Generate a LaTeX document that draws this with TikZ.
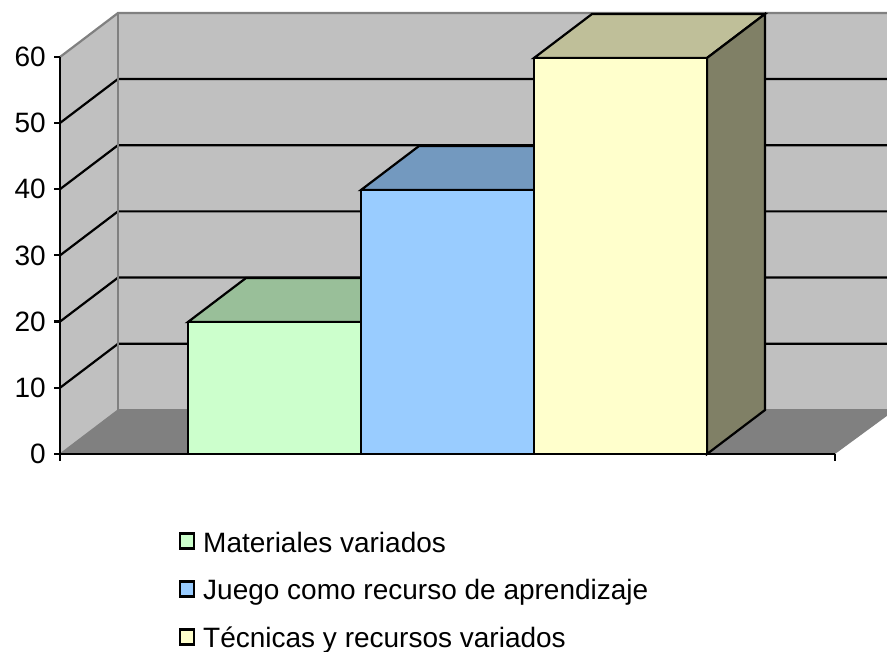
\documentclass[tikz,border=0pt]{standalone}
\usepackage{fontspec}
\setmainfont{Liberation Sans}
\usepackage{tikz}
\usetikzlibrary{calc}

\definecolor{wallgray}{HTML}{C0C0C0}
\definecolor{floorgray}{HTML}{808080}
\definecolor{edgegray}{HTML}{808080}
\definecolor{greenfront}{HTML}{CCFFCC}
\definecolor{greentop}{HTML}{99BF99}
\definecolor{bluefront}{HTML}{99CCFF}
\definecolor{bluetop}{HTML}{7399BF}
\definecolor{yellowfront}{HTML}{FFFFCC}
\definecolor{yellowtop}{HTML}{BFBF99}
\definecolor{yellowside}{HTML}{808066}

\begin{document}
\begin{tikzpicture}[x=1pt,y=-1pt,
    axislabel/.style={anchor=east,inner sep=0pt,font=\fontsize{28}{33}\selectfont},
    legendtext/.style={anchor=base west,inner sep=0pt,font=\fontsize{28}{33}\selectfont},
    legendbox/.style={draw=black,line width=2.2pt,minimum width=14pt,minimum height=15pt,inner sep=0pt},
    barface/.style={draw=black,line width=2.2pt,line join=miter}]
        \useasboundingbox (0,0) rectangle (887,652);
        \clip (0,0) rectangle (887,652);

        % depth offset of the 3d box
        \coordinate (D) at (58,-44);

        % Left wall, back wall and floor
        \fill[wallgray] (60,454) -- (60,57) -- (118,13) -- (118,410) -- cycle;
        \fill[wallgray] (118,13) rectangle (895,410);
        \fill[floorgray] (60,454) -- (118,410) -- (895,410) -- (835,454) -- cycle;

        % Grid lines
        \foreach \v in {1,...,5}{
            \draw[line width=2.2pt] (60,454-\v*66.2) -- ++(D) -- (895,454-\v*66.2-44);
        }
        \draw[edgegray,line width=2.2pt] (60,57) -- (118,13) -- (895,13);
        \draw[edgegray,line width=2.2pt] (118,13) -- (118,410) -- (895,410);
        \draw[edgegray,line width=1.2pt] (60,454) -- (118,410);

        % Bar for each category
        \coordinate (A1) at (188,454);
        \coordinate (A2) at (361,454);
        \coordinate (A3) at (534,454);
        \coordinate (A4) at (707,454);

        \filldraw[barface,fill=greentop] (188,322) -- ++(D) -- ($(361,322)+(D)$) -- (361,322) -- cycle;
        \filldraw[barface,fill=greenfront] (A1) rectangle (361,322);

        \filldraw[barface,fill=bluetop] (361,190) -- ++(D) -- ($(534,190)+(D)$) -- (534,190) -- cycle;
        \filldraw[barface,fill=bluefront] (A2) rectangle (534,190);

        \filldraw[barface,fill=yellowtop] (534,58) -- ++(D) -- ($(707,58)+(D)$) -- (707,58) -- cycle;
        \filldraw[barface,fill=yellowside] (A4) -- ++(D) -- ($(707,58)+(D)$) -- (707,58) -- cycle;
        \filldraw[barface,fill=yellowfront] (A3) rectangle (707,58);

        % Axes
        \draw[line width=2.2pt] (60,57) -- (60,454) -- (835,454);
        \foreach \v in {0,...,6}{
            \draw[line width=2.2pt] (54,454-\v*66.2) -- (60,454-\v*66.2);
        }
        \draw[line width=2.2pt] (60,454) -- (60,461);
        \draw[line width=2.2pt] (835,454) -- (835,461);

        \node[axislabel] (l0) at (46,454) {0};
        \node[axislabel] (l10) at (46,387.8) {10};
        \node[axislabel] (l20) at (46,321.6) {20};
        \node[axislabel] (l30) at (46,255.4) {30};
        \node[axislabel] (l40) at (46,189.2) {40};
        \node[axislabel] (l50) at (46,123) {50};
        \node[axislabel] (l60) at (46,56.8) {60};

        % Legend
        \node[legendbox,fill=greenfront] (box1) at (187,541) {};
        \node[legendbox,fill=bluefront] (box2) at (187,589) {};
        \node[legendbox,fill=yellowfront] (box3) at (187,637) {};
        \node[legendtext] (leg1) at (203,552) {Materiales variados};
        \node[legendtext] (leg2) at (203,599) {Juego como recurso de aprendizaje};
        \node[legendtext] (leg3) at (203,647) {Técnicas y recursos variados};
    \end{tikzpicture}
\end{document}
